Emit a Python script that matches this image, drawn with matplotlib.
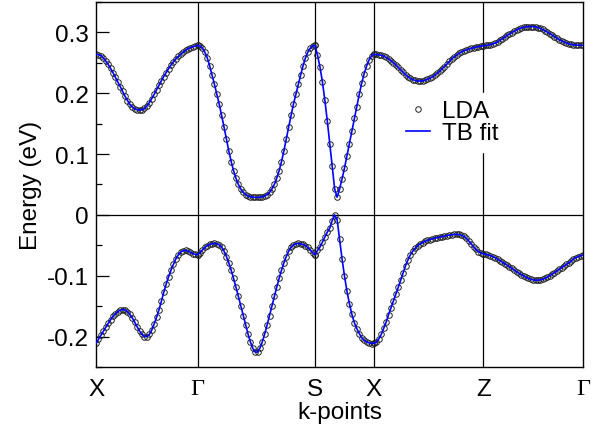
import numpy as np
import matplotlib.pyplot as plt

# high-symmetry points along the path (fraction of total path length)
kpt_pos = [0.0, 0.2088, 0.4497, 0.5708, 0.7953, 1.0]
kpt_labels = ['X', 'Γ', 'S', 'X', 'Z', 'Γ']

# conduction band (eV), one list per path segment
cb_x_g = [0.264, 0.2635, 0.262, 0.258, 0.253, 0.2475, 0.241, 0.234, 0.226, 0.2185,
          0.211, 0.203, 0.195, 0.188, 0.1815, 0.1775, 0.1745, 0.1728, 0.1722, 0.1728,
          0.175, 0.179, 0.1845, 0.191, 0.198, 0.2055, 0.213, 0.2205, 0.2275, 0.234,
          0.2405, 0.2465, 0.252, 0.2565, 0.2605, 0.264, 0.2675, 0.2705, 0.273, 0.275,
          0.2765, 0.2775, 0.279]
cb_g_s = [0.279, 0.2775, 0.274, 0.2675, 0.258, 0.245, 0.230, 0.2145, 0.198, 0.182,
          0.1635, 0.1445, 0.125, 0.105, 0.0875, 0.0725, 0.060, 0.050, 0.0425, 0.037,
          0.0335, 0.031, 0.0298, 0.029, 0.0288, 0.0288, 0.029, 0.0298, 0.031, 0.0335,
          0.037, 0.0425, 0.050, 0.060, 0.0725, 0.0875, 0.105, 0.125, 0.1445, 0.1635,
          0.182, 0.198, 0.2145, 0.230, 0.245, 0.258, 0.2675, 0.274, 0.2775, 0.279]
cb_s_x = [0.279, 0.2628, 0.2437, 0.2191, 0.189, 0.1546, 0.1169, 0.0798, 0.0426, 0.029,
          0.0426, 0.059, 0.077, 0.0973, 0.117, 0.138, 0.1585, 0.178, 0.198, 0.2164,
          0.2322, 0.2448, 0.2546, 0.2613, 0.264]
cb_x_z = [0.264, 0.2638, 0.2633, 0.2625, 0.261, 0.259, 0.2565, 0.2535, 0.2502, 0.2465,
          0.2425, 0.2385, 0.2343, 0.2305, 0.227, 0.2245, 0.2225, 0.221, 0.2203, 0.22,
          0.2203, 0.2213, 0.223, 0.2245, 0.2268, 0.2295, 0.233, 0.2362, 0.2398, 0.2437,
          0.2478, 0.2522, 0.2565, 0.2595, 0.2625, 0.2655, 0.2678, 0.2698, 0.2712, 0.2725,
          0.2737, 0.2748, 0.2758, 0.2766, 0.2773, 0.278]
cb_z_g = [0.278, 0.2785, 0.279, 0.2798, 0.281, 0.2825, 0.2845, 0.287, 0.2895, 0.2922,
          0.295, 0.2975, 0.2998, 0.302, 0.304, 0.3058, 0.3072, 0.3083, 0.309, 0.3095,
          0.3097, 0.3095, 0.309, 0.308, 0.3066, 0.3048, 0.3027, 0.3005, 0.298, 0.2955,
          0.293, 0.2905, 0.2882, 0.286, 0.2842, 0.2826, 0.2813, 0.2803, 0.2796, 0.2791,
          0.2789, 0.2788, 0.2788]

# valence band (eV)
vb_x_g = [-0.211, -0.2045, -0.198, -0.1915, -0.185, -0.1785, -0.1725, -0.167, -0.1625, -0.159,
          -0.1565, -0.1555, -0.1565, -0.159, -0.1635, -0.1695, -0.1765, -0.184, -0.191, -0.1965,
          -0.2, -0.2, -0.1965, -0.1895, -0.1795, -0.1685, -0.156, -0.142, -0.127, -0.1135,
          -0.1015, -0.0905, -0.081, -0.072, -0.0655, -0.061, -0.0588, -0.0585, -0.0595, -0.0615,
          -0.0635, -0.065, -0.0655]
vb_g_s = [-0.0655, -0.062, -0.0575, -0.0535, -0.0505, -0.0485, -0.0475, -0.047, -0.0475, -0.0495,
          -0.053, -0.0595, -0.0685, -0.079, -0.091, -0.1045, -0.119, -0.134, -0.1495, -0.1655,
          -0.181, -0.1955, -0.2085, -0.219, -0.2255, -0.2255, -0.219, -0.2085, -0.1955, -0.181,
          -0.1655, -0.1495, -0.134, -0.119, -0.1045, -0.091, -0.079, -0.0685, -0.0595, -0.053,
          -0.0495, -0.0475, -0.047, -0.0475, -0.0485, -0.0505, -0.0535, -0.0575, -0.062, -0.0655]
vb_s_x = [-0.0655, -0.0585, -0.053, -0.0448, -0.0366, -0.0284, -0.0219, -0.0093, 0.0, -0.0077,
          -0.0393, -0.0721, -0.1005, -0.1251, -0.1459, -0.1634, -0.177, -0.1869, -0.195, -0.2016,
          -0.206, -0.2087, -0.2104, -0.2115, -0.211]
vb_x_z = [-0.211, -0.209, -0.204, -0.1965, -0.1865, -0.1765, -0.164, -0.1525, -0.1415, -0.1305,
          -0.119, -0.107, -0.0955, -0.0835, -0.074, -0.0655, -0.0595, -0.0545, -0.0505, -0.0475,
          -0.0455, -0.0435, -0.0418, -0.0405, -0.0393, -0.0383, -0.0375, -0.0366, -0.0357, -0.0348,
          -0.034, -0.0333, -0.0327, -0.0322, -0.032, -0.0322, -0.0333, -0.0352, -0.0385, -0.0428,
          -0.0475, -0.0525, -0.0568, -0.0603, -0.0625, -0.064]
vb_z_g = [-0.064, -0.0648, -0.0658, -0.067, -0.0686, -0.0705, -0.0727, -0.075, -0.0775, -0.08,
          -0.0826, -0.0853, -0.088, -0.0907, -0.0932, -0.0958, -0.0983, -0.1005, -0.1025, -0.1043,
          -0.1058, -0.1068, -0.1073, -0.1073, -0.1068, -0.1058, -0.1043, -0.1023, -0.1, -0.0975,
          -0.0948, -0.092, -0.0892, -0.0865, -0.0838, -0.0812, -0.0788, -0.0765, -0.072, -0.0703,
          -0.0686, -0.067, -0.066]

ytick_vals = [-0.2, -0.1, 0.0, 0.1, 0.2, 0.3]
ytick_labels = ['-0.2', '-0.1', '0', '0.1', '0.2', '0.3']

plt.rcParams['font.family'] = ['Liberation Sans', 'DejaVu Sans']


def path(segments):
    k, e = [], []
    for i, seg in enumerate(segments):
        k.append(np.linspace(kpt_pos[i], kpt_pos[i + 1], len(seg)))
        e.append(seg)
    return np.concatenate(k), np.concatenate(e)


bands = [path([cb_x_g, cb_g_s, cb_s_x, cb_x_z, cb_z_g]),
         path([vb_x_g, vb_g_s, vb_s_x, vb_x_z, vb_z_g])]

fig = plt.figure(figsize=(6.02, 4.27), dpi=100)
ax = fig.add_axes([0.1595, 0.1382, 0.8089, 0.8548])

for x in kpt_pos[1:-1]:
    ax.axvline(x, color='black', lw=0.9, zorder=1)
ax.axhline(0.0, color='black', lw=0.9, zorder=1)

for i, (k, e) in enumerate(bands):
    ax.plot(k, e, linestyle='none', marker='o', ms=4, mfc='none', mec='#222222', mew=0.7,
            zorder=2, label='LDA' if i == 0 else None)
    ax.plot(k, e, color='#0000ff', lw=1.2, zorder=3, label='TB fit' if i == 0 else None)

ax.set_xlim(0, 1)
ax.set_ylim(-0.25, 0.35)
ax.set_xticks(kpt_pos)
ax.set_xticklabels(kpt_labels, fontsize=17.5)
for lab in ax.get_xticklabels():
    if lab.get_text() == 'Γ':
        lab.set_fontfamily('Liberation Serif')
ax.tick_params(axis='x', length=0, pad=8)

ax.set_yticks(ytick_vals)
ax.set_yticklabels(ytick_labels, fontsize=17.5)
ax.set_yticks(np.arange(-0.25, 0.351, 0.05), minor=True)
ax.tick_params(axis='y', which='major', direction='in', length=9, width=0.9, pad=5)
ax.tick_params(axis='y', which='minor', direction='in', length=4.5, width=0.9)

for sp in ax.spines.values():
    sp.set_linewidth(1.0)

ax.set_xlabel('k-points', fontsize=17.5, labelpad=1)
ax.set_ylabel('Energy (eV)', fontsize=17.5, labelpad=4)

leg = ax.legend(loc='center left', bbox_to_anchor=(0.6623, 0.711), bbox_transform=fig.transFigure,
                fontsize=17.5, frameon=True, fancybox=False, framealpha=1, edgecolor='white',
                facecolor='white', handlelength=1.0, handletextpad=0.5, labelspacing=0.0,
                borderpad=0.3, borderaxespad=0, numpoints=1)

fig.savefig('out.png', dpi=100)
